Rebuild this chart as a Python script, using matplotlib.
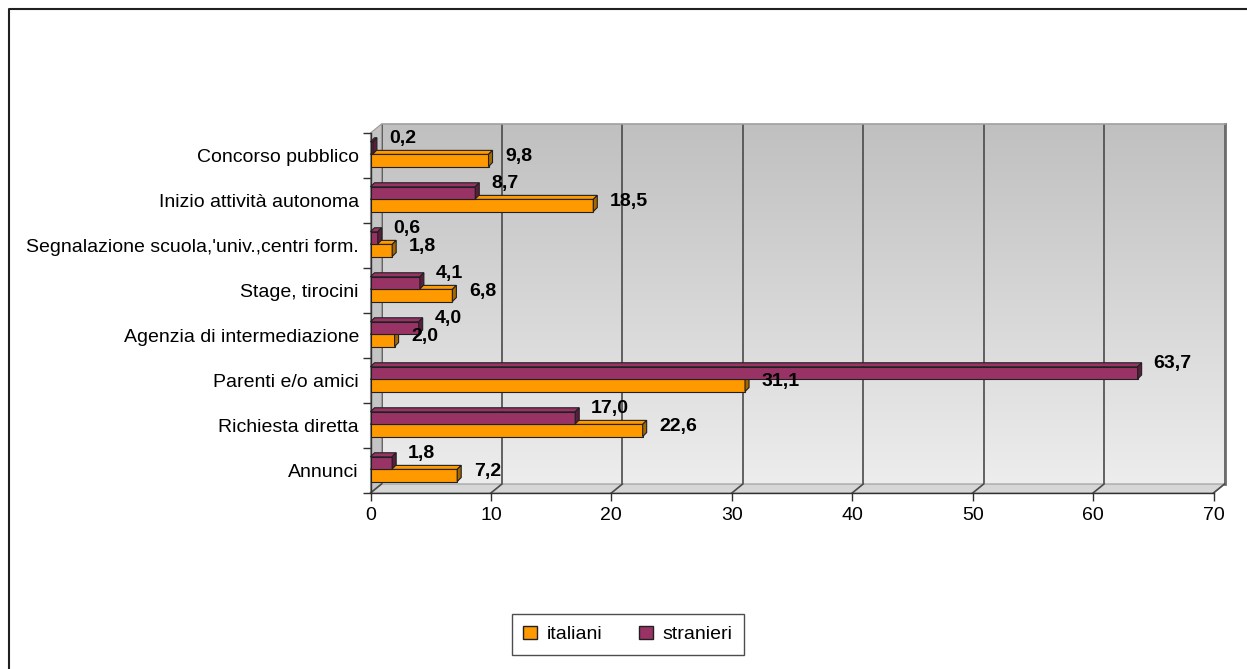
import matplotlib.pyplot as plt
import numpy as np
from matplotlib.colors import LinearSegmentedColormap
from matplotlib.lines import Line2D
from matplotlib.patches import Polygon, Patch
from matplotlib.transforms import IdentityTransform

plt.rcParams['font.family'] = ['Liberation Sans', 'DejaVu Sans']

# data (bottom to top, as in the chart)
categories = ['Annunci', 'Richiesta diretta', 'Parenti e/o amici', 'Agenzia di intermediazione',
              'Stage, tirocini', "Segnalazione scuola,'univ.,centri form.",
              'Inizio attività autonoma', 'Concorso pubblico']
italiani = [7.2, 22.6, 31.1, 2.0, 6.8, 1.8, 18.5, 9.8]
stranieri = [1.8, 17.0, 63.7, 4.0, 4.1, 0.6, 8.7, 0.2]
x_ticks = [0, 10, 20, 30, 40, 50, 60, 70]

ORANGE = '#ff9900'
ORANGE_SIDE = '#a86600'
PURPLE = '#993366'
PURPLE_SIDE = '#5a1e3c'

W, H = 1247, 669
DPI = 100
DEPTH_X, DEPTH_Y = 11, 9      # 3d depth of the plot box, pixels
BAR_D = 4                     # 3d depth of the bars, pixels
BAR_H = 0.27
FS = 14

fig = plt.figure(figsize=(W / DPI, H / DPI), dpi=DPI, facecolor='white')

# front plane of the plot area
rect = [370.5 / W, (H - 493) / H, 843 / W, 360 / H]
ax = fig.add_axes(rect, zorder=2)
ax.set_xlim(0, 70)
ax.set_ylim(-0.5, len(categories) - 0.5)
ax.patch.set_visible(False)

# back wall, shifted by the depth
ax_back = fig.add_axes([rect[0] + DEPTH_X / W, rect[1] + DEPTH_Y / H, rect[2], rect[3]], zorder=0)
grad = np.linspace(0, 1, 256).reshape(-1, 1)
cmap = LinearSegmentedColormap.from_list('wall', ['#ededed', '#c0c0c0'])
ax_back.imshow(grad, cmap=cmap, origin='lower', aspect='auto', extent=[0, 70, -0.5, 7.5])
ax_back.set_xlim(0, 70)
ax_back.set_ylim(-0.5, 7.5)
ax_back.set_xticks(x_ticks)
ax_back.set_yticks([])
ax_back.tick_params(axis='x', length=0, labelbottom=False)
ax_back.grid(axis='x', color='#4a4a4a', lw=1.2)
ax_back.spines['left'].set_visible(False)
ax_back.spines['bottom'].set_visible(False)
ax_back.spines['top'].set_color('#a0a0a0')
ax_back.spines['top'].set_linewidth(1.2)
ax_back.spines['right'].set_color('#6e6e6e')
ax_back.spines['right'].set_linewidth(2)


def px(x, y, dx=0, dy=0):
    p = ax.transData.transform((x, y))
    return (p[0] + dx, p[1] + dy)


ymin, ymax = ax.get_ylim()

# left side wall and floor
left_wall = [px(0, ymin), px(0, ymax), px(0, ymax, DEPTH_X, DEPTH_Y), px(0, ymin, DEPTH_X, DEPTH_Y)]
fig.add_artist(Polygon(left_wall, closed=True, facecolor='#c4c4c4', edgecolor='#9a9a9a',
                       lw=0.8, transform=IdentityTransform(), zorder=1))
floor = [px(0, ymin), px(70, ymin), px(70, ymin, DEPTH_X, DEPTH_Y), px(0, ymin, DEPTH_X, DEPTH_Y)]
fig.add_artist(Polygon(floor, closed=True, facecolor='#d6d6d6', edgecolor='#9a9a9a',
                       lw=0.8, transform=IdentityTransform(), zorder=1))
for t in x_ticks:
    a, b = px(t, ymin), px(t, ymin, DEPTH_X, DEPTH_Y)
    fig.add_artist(Line2D([a[0], b[0]], [a[1], b[1]], color='#4a4a4a', lw=1.2,
                          transform=IdentityTransform(), zorder=1.5))


def draw_bars(values, centers, face, side, z, label_dx, label_dy):
    ax.barh(centers, values, height=BAR_H, color=face, edgecolor='#202020', lw=0.8, zorder=z)
    for v, c in zip(values, centers):
        top, bot = c + BAR_H / 2, c - BAR_H / 2
        top_face = [px(0, top), px(v, top), px(v, top, BAR_D, BAR_D), px(0, top, BAR_D, BAR_D)]
        side_face = [px(v, bot), px(v, top), px(v, top, BAR_D, BAR_D), px(v, bot, BAR_D, BAR_D)]
        ax.add_patch(Polygon(top_face, closed=True, facecolor=face, edgecolor='#202020', lw=0.8,
                             transform=IdentityTransform(), zorder=z, clip_on=False))
        ax.add_patch(Polygon(side_face, closed=True, facecolor=side, edgecolor='#202020', lw=0.8,
                             transform=IdentityTransform(), zorder=z, clip_on=False))
        ax.annotate(f'{v:.1f}'.replace('.', ','), xy=(v, c), xytext=(label_dx, label_dy),
                    textcoords='offset points', ha='left', va='center',
                    fontsize=FS, fontweight='bold', color='black', zorder=6)


pos = np.arange(len(categories))
draw_bars(italiani, pos - 0.11, ORANGE, ORANGE_SIDE, 3, 12.0, 2.6)
draw_bars(stranieri, pos + 0.17, PURPLE, PURPLE_SIDE, 4, 11.5, 6.5)

# axes: ticks at category boundaries, labels at centres
ax.set_yticks(np.arange(-0.5, len(categories), 1))
ax.set_yticklabels([])
ax.set_yticks(pos, minor=True)
ax.set_yticklabels(categories, minor=True)
ax.tick_params(axis='y', which='major', length=5.8, width=1, color='#303030')
ax.tick_params(axis='y', which='minor', length=0, pad=8.3, labelsize=FS)
ax.set_xticks(x_ticks)
ax.tick_params(axis='x', length=5.8, width=1, color='#303030', pad=4.5, labelsize=FS)
for s in ['top', 'right']:
    ax.spines[s].set_visible(False)
for s in ['left', 'bottom']:
    ax.spines[s].set_color('#303030')
    ax.spines[s].set_linewidth(1)

handles = [Patch(facecolor=ORANGE, edgecolor='#202020', label='italiani'),
           Patch(facecolor=PURPLE, edgecolor='#202020', label='stranieri')]
leg = fig.legend(handles=handles, loc='center', bbox_to_anchor=(628 / W, 1 - 634.5 / H), ncol=2,
                 fontsize=FS, frameon=True, fancybox=False, edgecolor='#202020',
                 handlelength=0.7, handleheight=0.7, handletextpad=0.5, columnspacing=1.9,
                 borderpad=0.6, borderaxespad=0)
leg.get_frame().set_linewidth(1)

# chart border (only left and top edges are visible)
fig.add_artist(Line2D([8.5 / W, 8.5 / W, 1], [0, 1 - 8.5 / H, 1 - 8.5 / H],
                      color='#202020', lw=1.5, transform=fig.transFigure))

fig.savefig('out.png', dpi=DPI, facecolor='white')
